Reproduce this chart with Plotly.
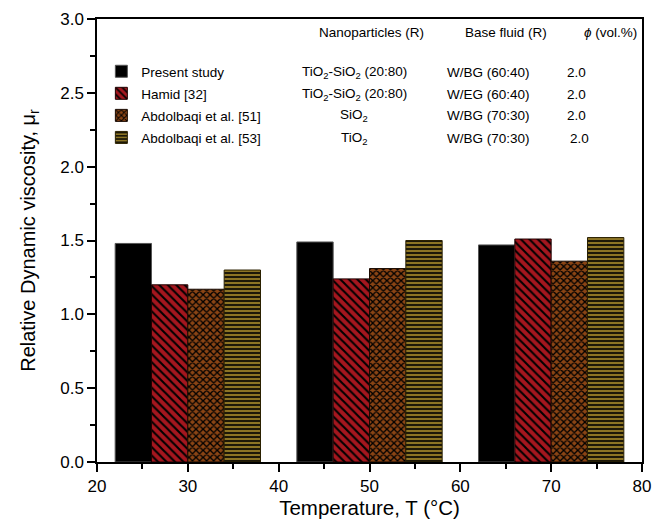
import plotly.graph_objects as go

temperatures = [30, 50, 70]
series_names = ["Present study", "Hamid [32]", "Abdolbaqi et al. [51]", "Abdolbaqi et al. [53]"]
present_study = [1.48, 1.49, 1.47]
hamid_32 = [1.20, 1.24, 1.51]
abdolbaqi_51 = [1.17, 1.31, 1.36]
abdolbaqi_53 = [1.30, 1.50, 1.52]
nanoparticles = ["TiO<sub>2</sub>-SiO<sub>2</sub> (20:80)", "TiO<sub>2</sub>-SiO<sub>2</sub> (20:80)",
                 "SiO<sub>2</sub>", "TiO<sub>2</sub>"]
base_fluids = ["W/BG (60:40)", "W/EG (60:40)", "W/BG (70:30)", "W/BG (70:30)"]
phi_values = ["2.0", "2.0", "2.0", "2.0"]
headers = ["Nanoparticles (R)", "Base fluid (R)", "<i>\u03d5</i> (vol.%)"]

values = [present_study, hamid_32, abdolbaqi_51, abdolbaqi_53]
colors = ["#000000", "#A5161E", "#8A4414", "#8C7424"]
patterns = ["", "\\", "x", "-"]
pat_sizes = [5, 6, 5, 4]
pat_sol = [0.3, 0.35, 0.45, 0.4]
line_cols = ["#555555", "#200000", "#1a0a00", "#2a2000"]

FONT = "Liberation Sans, Arial, sans-serif"

fig = go.Figure()
for i, name in enumerate(series_names):
    fig.add_trace(go.Bar(
        x=temperatures, y=values[i], name=name, legendgroup=name,
        marker=dict(color=colors[i],
                    line=dict(color=line_cols[i], width=1),
                    pattern=dict(shape=patterns[i], fgcolor="#000000", bgcolor=colors[i],
                                 size=pat_sizes[i], solidity=pat_sol[i], fillmode="replace")),
    ))

# table annotations
row_y_px = [72, 94, 116, 138]
plot_top, plot_bottom, plot_left, plot_right = 19, 462, 97, 642
def py(p):
    return (plot_bottom - p) / (plot_bottom - plot_top)
def px(p):
    return (p - plot_left) / (plot_right - plot_left)

col_x = [354, 488, 576]
head_x = [371, 506, 610]
anns = []
for j, h in enumerate(headers):
    anns.append(dict(x=px(head_x[j]), y=py(33), xref="paper", yref="paper", text=h,
                     xanchor="center", yanchor="middle",
                     showarrow=False, font=dict(size=13.5, color="#000", family=FONT)))
for r in range(4):
    for j, col in enumerate([nanoparticles, base_fluids, phi_values]):
        anns.append(dict(x=px(col_x[j] + (3 if (j == 2 and r == 3) else 0)), y=py(row_y_px[r]),
                         xref="paper", yref="paper", text=col[r], showarrow=False,
                         xanchor="center", yanchor="middle",
                         font=dict(size=13.5, color="#000", family=FONT)))

fig.update_layout(
    width=653, height=521,
    margin=dict(l=97, r=11, t=19, b=59),
    paper_bgcolor="white", plot_bgcolor="white",
    font=dict(family=FONT, color="#000"),
    barmode="group", bargap=0.2, bargroupgap=0,
    showlegend=True,
    legend=dict(x=0.008, y=py(56), xanchor="left", yanchor="top",
                font=dict(size=13.5, family=FONT), tracegroupgap=1.5,
                bgcolor="rgba(0,0,0,0)", itemwidth=30),
    annotations=anns,
    xaxis=dict(range=[20, 80], dtick=10, tick0=20, showline=True, mirror=True,
               linecolor="#000", linewidth=1.5, ticks="outside", ticklen=8, tickwidth=1.5,
               tickcolor="#000", showgrid=False, zeroline=False, automargin=False,
               tickfont=dict(size=17, family=FONT),
               minor=dict(dtick=5, ticks="outside", ticklen=5, tickwidth=1.5, tickcolor="#000"),
               title=dict(text="Temperature, T (\u00b0C)", font=dict(size=20.5, family=FONT), standoff=4)),
    yaxis=dict(range=[0, 3], dtick=0.5, tickformat=".1f", showline=True, mirror=True,
               linecolor="#000", linewidth=1.5, ticks="outside", ticklen=8, tickwidth=1.5,
               tickcolor="#000", showgrid=False, zeroline=False, automargin=False,
               tickfont=dict(size=17, family=FONT),
               minor=dict(dtick=0.25, ticks="outside", ticklen=5, tickwidth=1.5, tickcolor="#000"),
               title=dict(text="Relative Dynamic viscosity, \u03bc<sub>r</sub>",
                          font=dict(size=20, family=FONT), standoff=19)),
)

fig.write_html("out.html")
